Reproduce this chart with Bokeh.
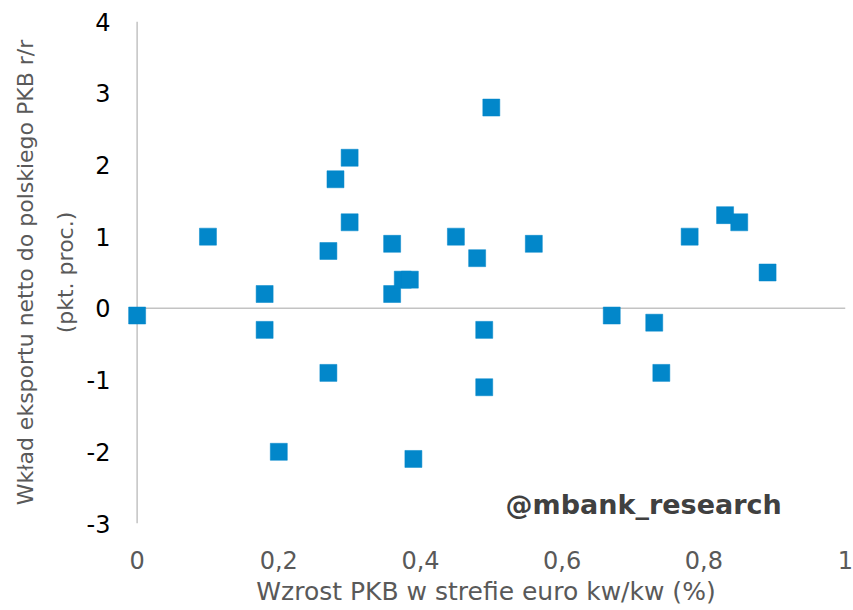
from bokeh.plotting import figure
from bokeh.models import Range1d, FixedTicker, Span, Label
from bokeh.embed import file_html
from bokeh.resources import INLINE

# Data
gdp_ez = [0.00, 0.10, 0.18, 0.18, 0.20, 0.27, 0.27, 0.28, 0.30, 0.30,
          0.36, 0.36, 0.375, 0.385, 0.39, 0.45, 0.48, 0.49, 0.49, 0.50,
          0.56, 0.67, 0.73, 0.74, 0.78, 0.83, 0.85, 0.89]
net_exports = [-0.1, 1.0, 0.2, -0.3, -2.0, 0.8, -0.9, 1.8, 2.1, 1.2,
               0.9, 0.2, 0.4, 0.4, -2.1, 1.0, 0.7, -0.3, -1.1, 2.8,
               0.9, -0.1, -0.2, -0.9, 1.0, 1.3, 1.2, 0.5]

x_ticks = [0, 0.2, 0.4, 0.6, 0.8, 1.0]
x_tick_labels = ["0", "0,2", "0,4", "0,6", "0,8", "1"]
y_ticks = [-3, -2, -1, 0, 1, 2, 3, 4]
y_tick_labels = ["-3", "-2", "-1", "0", "1", "2", "3", "4"]

x_title = "Wzrost PKB w strefie euro kw/kw (%)"
y_title = "Wkład eksportu netto do polskiego PKB r/r\n(pkt. proc.)"
watermark = "@mbank_research"

FONT = "DejaVu Sans"
BLUE = "#0287CA"
AXIS_GRAY = "#C3C3C3"

p = figure(width=853, height=610, output_backend="svg", toolbar_location=None,
           x_range=Range1d(-0.015, 1.0), y_range=Range1d(-3, 4),
           min_border_left=126, min_border_right=8, min_border_top=21,
           min_border_bottom=87)
p.outline_line_color = None
p.xgrid.visible = False
p.ygrid.visible = False
p.background_fill_color = "white"
p.border_fill_color = "white"

p.xaxis.ticker = FixedTicker(ticks=x_ticks)
p.xaxis.major_label_overrides = {t: l for t, l in zip(x_ticks, x_tick_labels)}
p.yaxis.ticker = FixedTicker(ticks=y_ticks)
p.yaxis.major_label_overrides = {t: l for t, l in zip(y_ticks, y_tick_labels)}
for ax in (p.xaxis, p.yaxis):
    ax.axis_line_color = None
    ax.major_tick_line_color = None
    ax.minor_tick_line_color = None
    ax.major_tick_out = 0
    ax.major_tick_in = 0
    ax.major_label_text_font = FONT
    ax.major_label_text_font_size = "24px"
    ax.axis_label_text_font = FONT
    ax.axis_label_text_font_style = "normal"
    ax.axis_label_text_color = "#595959"

p.xaxis.major_label_text_color = "#595959"
p.yaxis.major_label_text_color = "#000000"
p.xaxis.major_label_standoff = 27
p.yaxis.major_label_standoff = 16

p.xaxis.axis_label = x_title
p.xaxis.axis_label_text_font_size = "25px"
p.xaxis.axis_label_text_line_height = 1.0
p.xaxis.axis_label_standoff = 5

p.yaxis.axis_label = y_title
p.yaxis.axis_label_text_font_size = "22px"
p.yaxis.axis_label_text_line_height = 1.6
p.yaxis.axis_label_standoff = 6

# axis lines crossing at zero
p.add_layout(Span(location=0, dimension="height", line_color=AXIS_GRAY,
                  line_width=1.5, level="underlay"))
p.segment(x0=[0], y0=[0], x1=[1], y1=[0], line_color=AXIS_GRAY, line_width=1.5,
          level="underlay")

p.scatter(gdp_ez, net_exports, marker="square", size=17, fill_color=BLUE,
          line_color=BLUE, line_width=0.5)

p.add_layout(Label(x=0.91, y=-2.73, text=watermark, text_align="right",
                   text_baseline="middle", text_font=FONT,
                   text_font_size="27px", text_font_style="bold",
                   text_color="#404040"))

open("out.html", "w").write(file_html(p, INLINE))
